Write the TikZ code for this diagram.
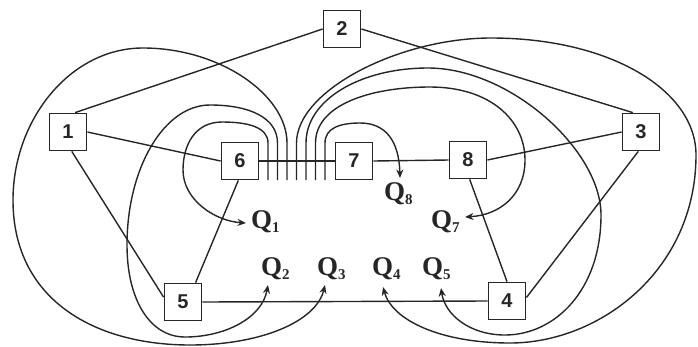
\documentclass[tikz,border=0pt]{standalone}
\usepackage{fontspec}
\setmainfont{Liberation Serif}
\newfontfamily\boxfont{Liberation Sans}
\usetikzlibrary{arrows.meta}
\definecolor{ink}{HTML}{262626}
\newcommand\qlab[1]{Q\raisebox{-4pt}{\fontsize{15}{15}\selectfont #1}}
\begin{document}
\begin{tikzpicture}[x=1pt,y=-1pt,
  box/.style={draw=ink, line width=1.8pt, minimum width=37pt, minimum height=37pt,
    inner sep=0pt, text=ink, font=\boxfont\bfseries\fontsize{20}{20}\selectfont},
  link/.style={draw=ink, line width=1.4pt},
  flow/.style={link, -{Stealth[length=8.5pt,width=7pt]}},
  lbl/.style={inner sep=0pt, anchor=base west, text=ink,
    font=\bfseries\fontsize{27}{27}\selectfont}]
\useasboundingbox (0,0) rectangle (698,346);

% boxes
\node[box] (n1) at (68,132) {1};
\node[box] (n2) at (342,29) {2};
\node[box] (n3) at (641,132) {3};
\node[box] (n4) at (507,301) {4};
\node[box] (n5) at (183,302) {5};
\node[box] (n6) at (240,161) {6};
\node[box] (n7) at (354,161) {7};
\node[box] (n8) at (468,160) {8};

% labels
\node[lbl] (q1) at (251,228) {\qlab{1}};
\node[lbl] (q8) at (384,200) {\qlab{8}};
\node[lbl] (q7) at (431,228) {\qlab{7}};
\node[lbl] (q2) at (261,275) {\qlab{2}};
\node[lbl] (q3) at (317,275) {\qlab{3}};
\node[lbl] (q4) at (372,275) {\qlab{4}};
\node[lbl] (q5) at (422,275) {\qlab{5}};

% straight connectors
\draw[link] (n1.70) -- (n2.west);
\draw[link] (n2.east) -- (n3.113);
\draw[link] (n1.east) -- (n6.west);
\draw[link] (n1.-79) -- (n5.166);
\draw[link] (n6.-95) -- (n5.57);
\draw[link] (n6.east) -- (n7.west);
\draw[link] (n7.east) -- (n8.west);
\draw[link] (n8.east) -- (n3.west);
\draw[link] (n8.-85) -- (n4.north);
\draw[link] (n3.-98) -- (n4.10);
\draw[link] (n5.east) -- (n4.west);

% tick feet
\coordinate (t1) at (268,180);
\coordinate (t2) at (277.5,180);
\coordinate (t3) at (287,180);
\coordinate (t4) at (296.5,180);
\coordinate (t5) at (306,180);
\coordinate (t6) at (315.5,180);
\coordinate (t7) at (325,180);

% curved flows
\draw[flow] (t1) -- (268,143) .. controls (268,128) and (250,122) .. (222,122)
  .. controls (195,122) and (183,145) .. (183,170)
  .. controls (183,200) and (215,221) .. ([xshift=-5pt,yshift=5pt]q1.base west);
\draw[flow] (t2) -- (277.5,143) .. controls (277.5,118) and (250,105) .. (210,105)
  .. controls (164,105) and (127,168) .. (127,245)
  .. controls (127,300) and (150,337) .. (185,337)
  .. controls (225,337) and (262,318) .. ([xshift=7pt,yshift=-10pt]q2.base west);
\draw[flow] (t3) -- (287,143) .. controls (287,95) and (220,48) .. (143,48)
  .. controls (70,48) and (13,120) .. (13,200)
  .. controls (13,300) and (95,345) .. (190,345)
  .. controls (260,345) and (316,322) .. ([xshift=8pt,yshift=-10pt]q3.base west);
\draw[flow] (t4) -- (296.5,143) .. controls (296.5,90) and (400,38) .. (491,38)
  .. controls (610,38) and (696,90) .. (696,155)
  .. controls (696,270) and (600,343) .. (510,343)
  .. controls (440,343) and (392,320) .. ([xshift=11pt,yshift=-12pt]q4.base west);
\draw[flow] (t5) -- (306,143) .. controls (306,100) and (360,68) .. (428,68)
  .. controls (510,68) and (601,150) .. (601,215)
  .. controls (601,290) and (555,335) .. (505,335)
  .. controls (470,335) and (445,315) .. ([xshift=19pt,yshift=-13pt]q5.base west);
\draw[flow] (t6) -- (315.5,143) .. controls (315.5,105) and (370,87) .. (430,87)
  .. controls (490,87) and (525,120) .. (525,160)
  .. controls (525,195) and (500,215) .. ([xshift=34pt,yshift=11pt]q7.base west);
\draw[flow] (t7) -- (325,143) .. controls (325,128) and (340,123) .. (360,123)
  .. controls (385,123) and (399,140) .. ([xshift=16pt,yshift=22pt]q8.base west);
\end{tikzpicture}
\end{document}
